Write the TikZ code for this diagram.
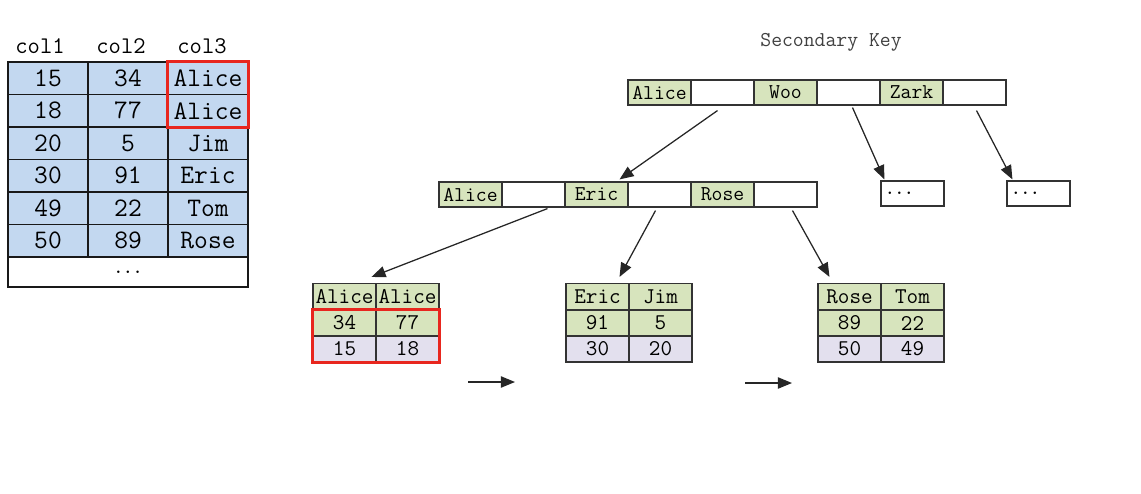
\documentclass[tikz,border=0pt]{standalone}
\usetikzlibrary{arrows.meta,calc}

\definecolor{keygreen}{HTML}{D7E4BD}
\definecolor{rowblue}{HTML}{C3D8F0}
\definecolor{rowlilac}{HTML}{E3E0EE}
\definecolor{markred}{HTML}{E8261E}

\tikzset{
  cell/.style={draw=black!80, line width=0.8pt, inner sep=0pt, minimum width=1.575cm, minimum height=0.625cm,
    font=\ttfamily\fontsize{15}{15}\selectfont},
  keycell/.style={cell, fill=keygreen},
  tcell/.style={draw=black!90, line width=0.9pt, fill=rowblue, inner sep=0pt, minimum width=2cm, minimum height=0.8125cm,
    font=\ttfamily\fontsize{19}{19}\selectfont},
  lcell/.style={draw=black!80, line width=0.8pt, inner sep=0pt, minimum width=1.575cm, minimum height=0.65cm,
    font=\ttfamily\fontsize{16}{16}\selectfont},
  dotbox/.style={draw=black!80, line width=0.8pt, minimum height=0.625cm, text width=1.375cm, inner xsep=0.1cm,
    align=left, font=\ttfamily\bfseries\fontsize{13}{13}\selectfont},
  arr/.style={-{Triangle[length=10pt,width=8pt]}, line width=0.9pt, black!85},
  redbox/.style={draw=markred, line width=2pt}
}

\begin{document}
\begin{tikzpicture}[x=0.025cm, y=-0.025cm]
\useasboundingbox (0,0) rectangle (1141,493);

% Base table
\node[font=\ttfamily\fontsize{17}{17}\selectfont] (h1) at (40,46) {col1};
\node[font=\ttfamily\fontsize{17}{17}\selectfont] (h2) at (121,46) {col2};
\node[font=\ttfamily\fontsize{17}{17}\selectfont] (h3) at (202,46) {col3};
\foreach \a/\b/\c [count=\i] in {15/34/Alice,18/77/Alice,20/5/Jim,30/91/Eric,49/22/Tom,50/89/Rose} {
  \node[tcell] (r\i-1) at (48,45.75+32.5*\i) {\a};
  \node[tcell] (r\i-2) at (128,45.75+32.5*\i) {\b};
  \node[tcell] (r\i-3) at (208,45.75+32.5*\i) {\c};
}
\node[tcell, fill=white, minimum width=6cm, minimum height=0.75cm,
  font=\ttfamily\bfseries\fontsize{13}{13}\selectfont] (rest) at (128,272) {...};
\draw[redbox] (r1-3.north west) rectangle (r2-3.south east);

% Root node
\node[font=\ttfamily\fontsize{15}{15}\selectfont, text=black!75] (title) at (831,42) {Secondary Key};
\node[keycell] (t1) at (659.5,92.5) {Alice};
\node[cell] (t2) at (722.5,92.5) {};
\node[keycell] (t3) at (785.5,92.5) {Woo};
\node[cell] (t4) at (848.5,92.5) {};
\node[keycell] (t5) at (911.5,92.5) {Zark};
\node[cell] (t6) at (974.5,92.5) {};

% Inner node
\node[keycell] (m1) at (470.5,194.5) {Alice};
\node[cell] (m2) at (533.5,194.5) {};
\node[keycell] (m3) at (596.5,194.5) {Eric};
\node[cell] (m4) at (659.5,194.5) {};
\node[keycell] (m5) at (722.5,194.5) {Rose};
\node[cell] (m6) at (785.5,194.5) {};
\node[dotbox] (d1) at (912.5,193.5) {...};
\node[dotbox] (d2) at (1038.5,193.5) {...};

% Leaves
\node[lcell, fill=keygreen] (la1) at (344.5,296.5) {Alice};
\node[lcell, fill=keygreen] (la2) at (407.5,296.5) {Alice};
\node[lcell, fill=keygreen] (lb1) at (344.5,323) {34};
\node[lcell, fill=keygreen] (lb2) at (407.5,323) {77};
\node[lcell, fill=rowlilac] (lc1) at (344.5,349) {15};
\node[lcell, fill=rowlilac] (lc2) at (407.5,349) {18};
\draw[redbox] (lb1.north west) rectangle (lc2.south east);

\node[lcell, fill=keygreen] (ea1) at (597.5,296.5) {Eric};
\node[lcell, fill=keygreen] (ea2) at (660.5,296.5) {Jim};
\node[lcell, fill=keygreen] (eb1) at (597.5,323) {91};
\node[lcell, fill=keygreen] (eb2) at (660.5,323) {5};
\node[lcell, fill=rowlilac] (ec1) at (597.5,349) {30};
\node[lcell, fill=rowlilac] (ec2) at (660.5,349) {20};

\node[lcell, fill=keygreen] (ra1) at (849.5,296.5) {Rose};
\node[lcell, fill=keygreen] (ra2) at (912.5,296.5) {Tom};
\node[lcell, fill=keygreen] (rb1) at (849.5,323) {89};
\node[lcell, fill=keygreen] (rb2) at (912.5,323) {22};
\node[lcell, fill=rowlilac] (rc1) at (849.5,349) {50};
\node[lcell, fill=rowlilac] (rc2) at (912.5,349) {49};

% Pointers
\draw[arr] ($(t2.south)+(-5,5)$) -- ($(m3.north)+(23,-2)$);
\draw[arr] ($(t4.south)+(4,2)$) -- ($(d1.north west)+(4,-1)$);
\draw[arr] ($(t6.south)+(2,5)$) -- ($(d2.north west)+(6,-1)$);
\draw[arr] ($(m2.south)+(14,1)$) -- ($(la1.north)+(27,-6)$);
\draw[arr] ($(m4.south)+(-4,3)$) -- ($(ea1.north)+(22,-6)$);
\draw[arr] ($(m6.south)+(7,3)$) -- ($(ra1.north)+(-20,-6)$);

% Leaf links
\coordinate (p1) at (468,382);
\coordinate (p2) at (515,382);
\coordinate (q1) at (745,383);
\coordinate (q2) at (792,383);
\draw[arr] (p1) -- (p2);
\draw[arr] (q1) -- (q2);
\end{tikzpicture}
\end{document}
